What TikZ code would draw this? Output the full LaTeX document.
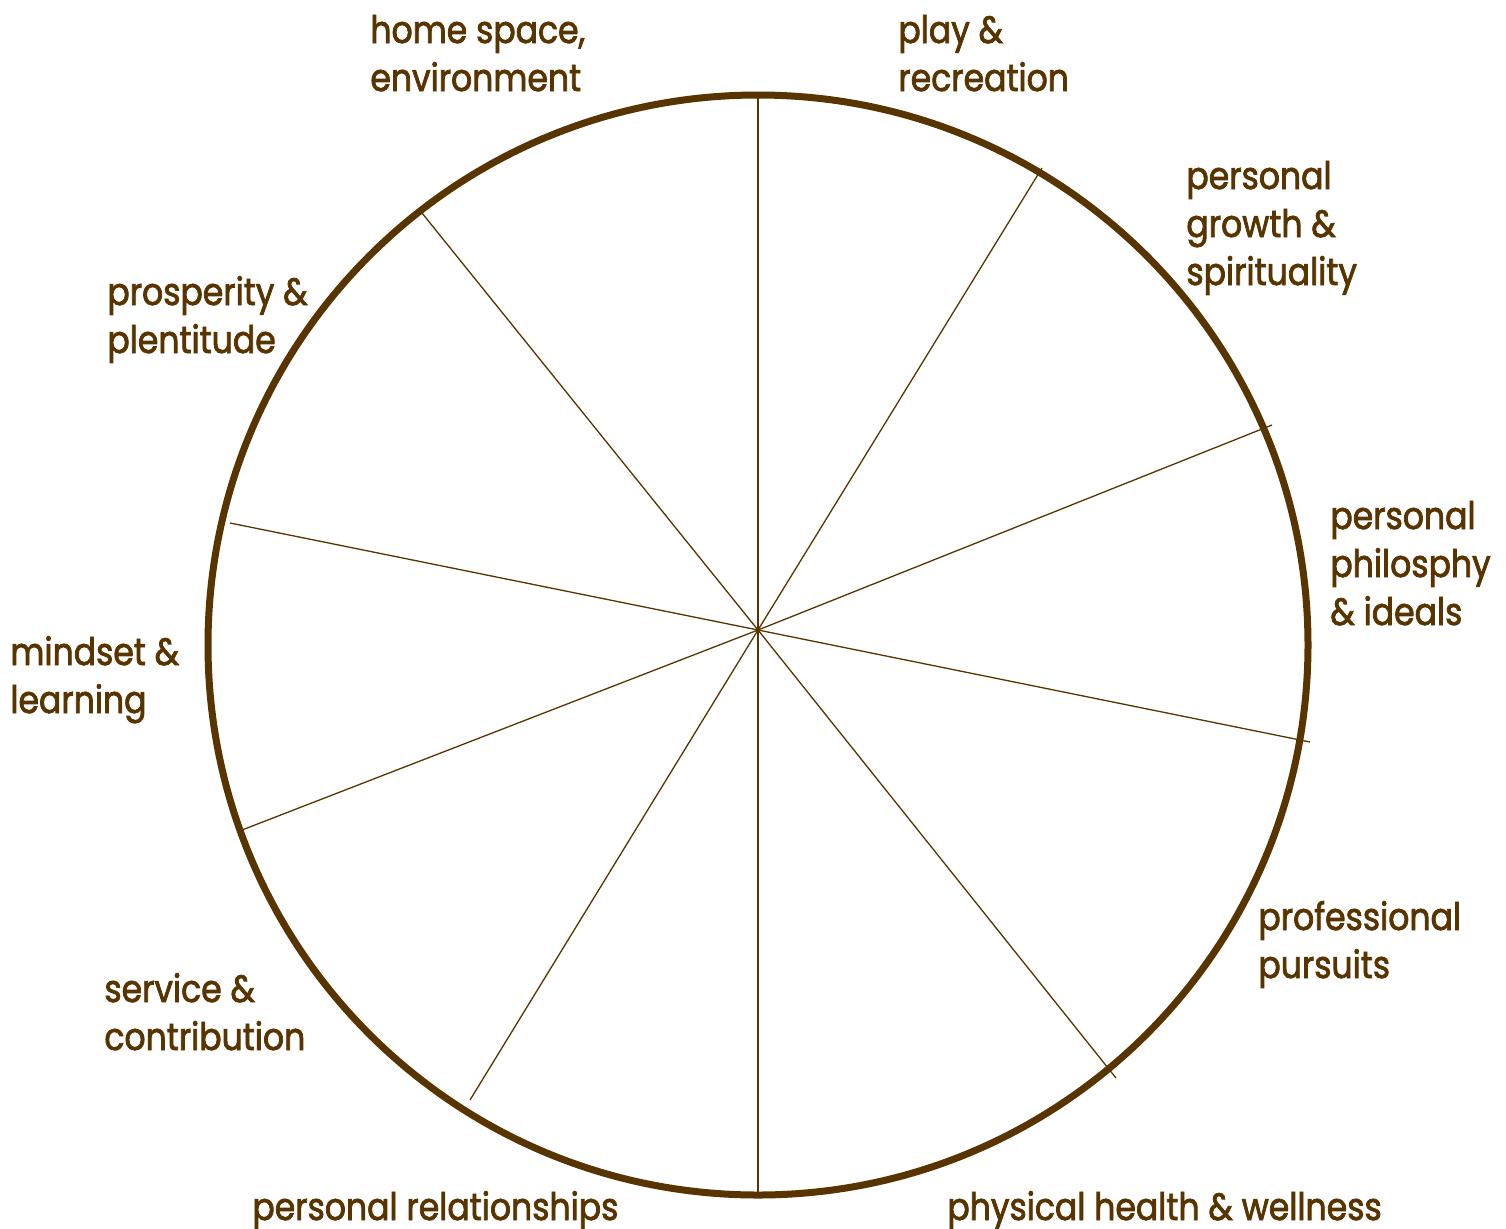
\documentclass[tikz,border=0pt]{standalone}
\usepackage{fontspec}
\setmainfont{Poppins}[FakeStretch=0.87, FakeBold=2]
\usepackage{tikz}
\definecolor{wheelbrown}{RGB}{87,52,0}
\tikzstyle{area} = [anchor=base west, align=left, inner sep=0pt, text=wheelbrown, font=\fontsize{19}{24}\selectfont]
\tikzstyle{rim} = [draw=wheelbrown, line width=3.5pt]
\tikzstyle{spoke} = [draw=wheelbrown, line width=0.65pt]

\begin{document}
\begin{tikzpicture}[x=0.5pt, y=-0.5pt]

    \useasboundingbox (0,0) rectangle (1506,1228);
    \coordinate (hub) at (758,630);
    \coordinate (mid) at (758,645);

    \foreach \name/\px/\py in {n/758/95, s/758/1197, ne/1042/168, sw/470/1100, ene/1272/425,
      wsw/242/830, ese/1310/742, wnw/230/523, se/1116/1078, nw/422/213}
      \coordinate (rim-\name) at (\px,\py);
    \foreach \name in {n, s, ne, sw, ene, wsw, ese, wnw, se, nw}
      \draw[spoke] (hub) -- (rim-\name);
    \draw[rim] (mid) circle [radius=275pt];

    % labels sit on the baseline of their last line
    \node(home)[area] at (370,91) {home space,\\environment};
    \node(play)[area] at (898,91) {play \&\\recreation};
    \node(growth)[area] at (1186,285) {personal\\growth \&\\spirituality};
    \node(ideals)[area] at (1330,625) {personal\\philosphy\\\& ideals};
    \node(career)[area] at (1258,978) {professional\\pursuits};
    \node(health)[area] at (947,1220) {physical health \& wellness};
    \node(relations)[area] at (252,1220) {personal relationships};
    \node(service)[area] at (104,1050) {service \&\\contribution};
    \node(mindset)[area] at (10,713) {mindset \&\\learning};
    \node(prosperity)[area] at (107,353) {prosperity \&\\plentitude};

\end{tikzpicture}
\end{document}
